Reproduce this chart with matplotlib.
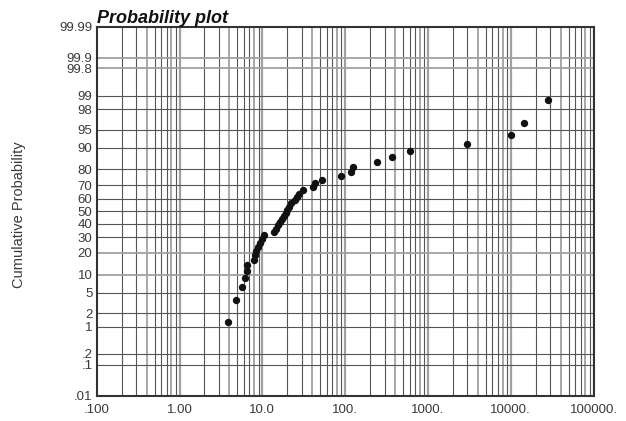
import numpy as np
import matplotlib
matplotlib.use("Agg")
import matplotlib.pyplot as plt
from statistics import NormalDist

# ---- data ----
x_values = [3.9, 4.8, 5.7, 6.2, 6.5, 6.5, 8.0, 8.2, 8.5, 8.9,
            9.4, 9.9, 10.5, 13.8, 14.6, 15.5, 16.4, 17.4, 18.3, 19.3,
            20.0, 21.0, 22.5, 24.8, 26.2, 28.1, 30.6, 41.3, 43.4, 52.0,
            88.5, 117.0, 124.0, 241.0, 368.0, 612.0, 2970.0, 10100.0, 14500.0, 28400.0]
cum_prob = [1.25, 3.75, 6.25, 8.75, 11.25, 13.75, 16.25, 18.75, 21.25, 23.75,
            26.25, 28.75, 31.25, 33.75, 36.25, 38.75, 41.25, 43.75, 46.25, 48.75,
            51.25, 53.75, 56.25, 58.75, 61.25, 63.75, 66.25, 68.75, 71.25, 73.75,
            76.25, 78.75, 81.25, 83.75, 86.25, 88.75, 91.25, 93.75, 96.25, 98.75]

y_grid = [0.1, 0.2, 1, 2, 5, 10, 20, 30, 40, 50, 60, 70, 80, 90, 95, 98, 99, 99.8, 99.9]
y_ticks = [0.01, 0.1, 0.2, 1, 2, 5, 10, 20, 30, 40, 50, 60, 70, 80, 90, 95, 98, 99, 99.8, 99.9, 99.99]
y_ticklabels = [".01", ".1", ".2", "1", "2", "5", "10", "20", "30", "40", "50", "60",
                "70", "80", "90", "95", "98", "99", "99.8", "99.9", "99.99"]
x_ticks = [0.1, 1, 10, 100, 1000, 10000, 100000]
x_ticklabels = [".100", "1.00", "10.0", "100.", "1000.", "10000.", "100000."]

_nd = NormalDist()
_ppf = np.vectorize(lambda v: _nd.inv_cdf(v / 100.0), otypes=[float])
_cdf = np.vectorize(lambda v: _nd.cdf(v) * 100.0, otypes=[float])

def fwd(p):
    p = np.clip(np.asarray(p, dtype=float), 1e-7, 100 - 1e-7)
    return _ppf(p)

def inv(z):
    z = np.asarray(z, dtype=float)
    return _cdf(z)

plt.rcParams['font.family'] = ['Liberation Sans', 'DejaVu Sans']

fig = plt.figure(figsize=(6.26, 4.21), dpi=100)
ax = fig.add_axes([0.1545, 0.0601, 0.7936, 0.8765])
ax.set_xscale('log')
ax.set_yscale('function', functions=(fwd, inv))
ax.set_xlim(0.1, 100000)
ax.set_ylim(0.01, 99.99)

# grid lines
dark = '#555555'
light = '#a0a0a0'
for dec in range(-1, 5):
    for m in range(2, 11):
        xv = m * 10.0 ** dec
        if m == 10:
            ax.axvline(xv, color=light, lw=1.6, zorder=1)
        elif m in (4, 8):
            ax.axvline(xv, color='#909090', lw=1.1, zorder=1)
        else:
            ax.axvline(xv, color=dark, lw=0.8, zorder=1)
for yv in y_grid:
    col = light if yv in (99.8, 99.9, 10, 20) else dark
    lw = 1.3 if col == light else 0.8
    ax.axhline(yv, color=col, lw=lw, zorder=1)

ax.scatter(x_values, cum_prob, s=28, color='#111111', zorder=3, linewidths=0)

ax.set_xticks(x_ticks)
ax.set_xticklabels(x_ticklabels)
ax.set_xticks([], minor=True)
ax.set_yticks(y_ticks)
ax.set_yticklabels(y_ticklabels)
ax.set_yticks([], minor=True)
ax.tick_params(axis='both', length=0, labelsize=9.5, labelcolor='#3a3a3a')
ax.tick_params(axis='x', pad=6)
ax.tick_params(axis='y', pad=3)

for s in ax.spines.values():
    s.set_color('#333333')
    s.set_linewidth(1.5)

ax.set_title('Probability plot', loc='left', fontsize=13, fontweight='bold',
             fontstyle='italic', color='#111111', pad=1)
fig.text(0.031, 0.489, 'Cumulative Probability', rotation=90, ha='center', va='center',
         fontsize=10.5, color='#3a3a3a')

fig.savefig('out.png', dpi=100)
